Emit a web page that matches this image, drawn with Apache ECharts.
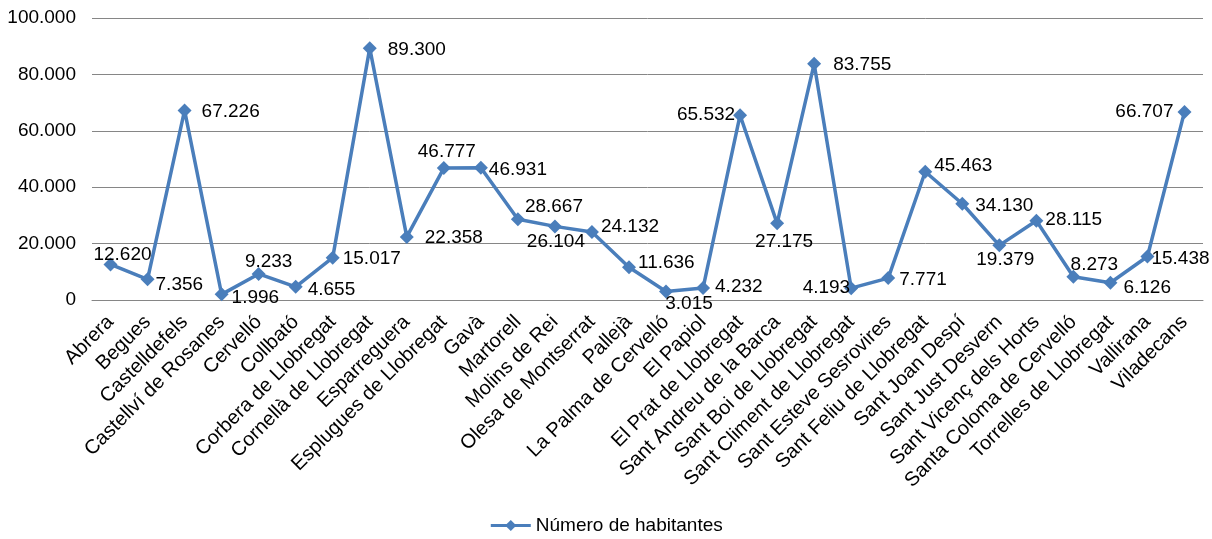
<!DOCTYPE html>
<html>
<head>
<meta charset="utf-8">
<script src="https://cdn.jsdelivr.net/npm/echarts@6/dist/echarts.min.js"></script>
<style>
  html, body { margin: 0; padding: 0; background: #fff; }
  #chart { width: 1212px; height: 539px; }
</style>
</head>
<body>
<div id="chart"></div>
<script>
const municipis = [
  'Abrera', 'Begues', 'Castelldefels', 'Castellví de Rosanes', 'Cervelló', 'Collbató',
  'Corbera de Llobregat', 'Cornellà de Llobregat', 'Esparreguera', 'Esplugues de Llobregat',
  'Gavà', 'Martorell', 'Molins de Rei', 'Olesa de Montserrat', 'Pallejà', 'La Palma de Cervelló',
  'El Papiol', 'El Prat de Llobregat', 'Sant Andreu de la Barca', 'Sant Boi de Llobregat',
  'Sant Climent de Llobregat', 'Sant Esteve Sesrovires', 'Sant Feliu de Llobregat', 'Sant Joan Despí',
  'Sant Just Desvern', 'Sant Vicenç dels Horts', 'Santa Coloma de Cervelló', 'Torrelles de Llobregat',
  'Vallirana', 'Viladecans'
];
const habitantes = [
  12620, 7356, 67226, 1996, 9233, 4655,
  15017, 89300, 22358, 46777,
  46931, 28667, 26104, 24132, 11636, 3015,
  4232, 65532, 27175, 83755,
  4193, 7771, 45463, 34130,
  19379, 28115, 8273, 6126,
  15438, 66707
];
const serieName = 'Número de habitantes';
const yTicks = [0, 20000, 40000, 60000, 80000, 100000];

// where each data label sits: [position, offsetX, offsetY]
const labelLayout = [
  ['inside', 12, -10], ['right', 1, 6], ['right', 10, 1], ['right', 3, 3], ['inside', 10, -12], ['right', 5, 3],
  ['right', 3, 1], ['right', 11, 2], ['right', 11, 1], ['inside', 3, -16],
  ['right', 1, 2], ['right', 0, -12], ['inside', 1, 15], ['right', 2, -5], ['right', 2, -4], ['inside', 23, 12],
  ['right', 5, -1], ['left', 2, 0], ['inside', 7, 18], ['right', 12, 1],
  ['left', 6, 0], ['right', 4, 2], ['right', 2, -6], ['right', 6, 2],
  ['inside', 6, 14], ['right', 2, -1], ['inside', 21, -12], ['right', 6, 5],
  ['right', -3, 2], ['left', -4, 0]
];

const fmt = v => String(v).replace(/\B(?=(\d{3})+(?!\d))/g, '.');
const font = 'Liberation Sans, Arial, sans-serif';
const blue = '#4a7ebb';

const seriesData = habitantes.map((v, i) => {
  const [pos, dx, dy] = labelLayout[i];
  return {
    value: v,
    label: { position: pos, offset: [dx, dy], distance: 0 }
  };
});

const chart = echarts.init(document.getElementById('chart'));
chart.setOption({
  animation: false,
  textStyle: { fontFamily: font },
  grid: { left: 92, right: 9, top: 18, bottom: 239 },
  legend: {
    data: [serieName],
    top: 511,
    left: 'center',
    itemWidth: 40,
    itemHeight: 14,
    lineStyle: { width: 3 },
    textStyle: { fontSize: 19, color: '#000', fontFamily: font }
  },
  xAxis: {
    type: 'category',
    data: municipis,
    boundaryGap: true,
    axisLine: { lineStyle: { color: '#868686', width: 1 } },
    axisTick: { show: false },
    axisLabel: {
      interval: 0,
      rotate: 45,
      margin: 19,
      fontSize: 20,
      color: '#000',
      fontFamily: font
    }
  },
  yAxis: {
    type: 'value',
    min: yTicks[0],
    max: yTicks[yTicks.length - 1],
    interval: 20000,
    axisLine: { show: false },
    axisTick: { show: false },
    splitLine: { lineStyle: { color: '#868686', width: 1 } },
    axisLabel: {
      margin: 16,
      fontSize: 19,
      color: '#000',
      fontFamily: font,
      formatter: v => fmt(v)
    }
  },
  series: [{
    name: serieName,
    type: 'line',
    data: seriesData,
    symbol: 'diamond',
    symbolSize: 14,
    showAllSymbol: true,
    lineStyle: { color: blue, width: 3.5 },
    itemStyle: { color: blue },
    label: {
      show: true,
      fontSize: 19,
      color: '#000',
      fontFamily: font,
      formatter: p => fmt(p.value)
    }
  }]
});
</script>
</body>
</html>
